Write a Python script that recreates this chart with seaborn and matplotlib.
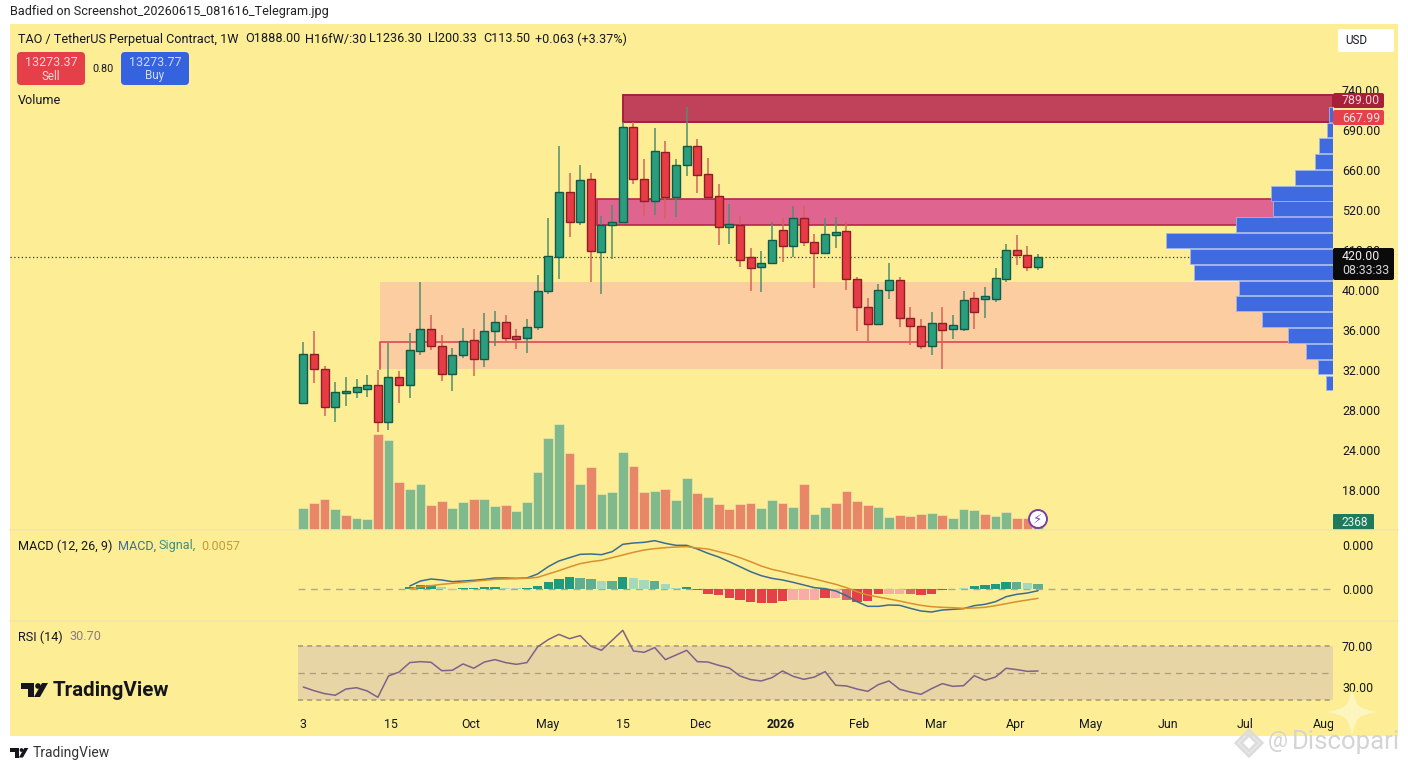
import numpy as np
import pandas as pd
import matplotlib
matplotlib.use('Agg')
import matplotlib.pyplot as plt
from matplotlib.patches import Rectangle, FancyBboxPatch, Polygon, Circle
import seaborn as sns

# candles (axis units, the printed price labels are garbled)
opens = [28.67, 33.6, 32.07, 28.33, 29.67, 29.77, 30.1, 30.5, 26.77, 31.27,
         30.5, 33.93, 36.07, 34.43, 31.57, 33.5, 35.0, 33.07, 35.93, 36.8,
         35.43, 35.2, 36.27, 39.87, 43.33, 49.8, 46.8, 51.07, 43.83, 46.47,
         46.83, 56.27, 51.13, 48.93, 53.8, 49.33, 52.53, 54.4, 51.57, 49.43,
         46.27, 46.53, 43.27, 42.33, 42.73, 45.97, 44.43, 47.23, 44.77, 43.67,
         45.53, 45.87, 41.1, 38.33, 36.63, 40.03, 41.03, 37.23, 36.43, 34.43,
         36.7, 36.07, 36.07, 39.23, 39.13, 39.13, 41.13, 43.97, 43.47, 42.27]
closes = [33.6, 32.07, 28.33, 29.83, 29.93, 30.33, 30.5, 26.77, 31.27, 30.5,
          34.0, 36.07, 34.43, 31.57, 33.5, 34.87, 33.07, 35.93, 36.8, 35.17,
          35.1, 36.27, 39.87, 43.43, 49.8, 46.8, 51.0, 43.87, 46.47, 46.83,
          56.27, 51.07, 48.87, 53.87, 49.33, 52.47, 54.4, 51.53, 49.33, 46.33,
          46.57, 43.0, 42.2, 42.73, 44.97, 44.43, 47.17, 44.77, 43.7, 45.6,
          45.83, 41.1, 38.33, 36.6, 39.97, 41.03, 37.23, 36.37, 34.43, 36.67,
          36.03, 36.53, 38.97, 37.83, 39.43, 41.23, 43.97, 43.53, 42.27, 43.27]
highs = [34.83, 35.9, 32.4, 30.83, 31.27, 31.13, 31.5, 32.0, 34.67, 31.93,
         35.67, 40.83, 37.5, 35.5, 34.17, 36.17, 36.07, 37.67, 37.93, 37.47,
         36.13, 37.07, 41.5, 47.17, 54.43, 51.67, 52.47, 51.67, 47.4, 48.47,
         56.8, 56.83, 53.07, 56.17, 54.93, 53.07, 58.33, 55.07, 53.23, 50.57,
         48.57, 47.4, 44.2, 43.87, 46.77, 47.17, 48.43, 48.37, 45.63, 47.17,
         47.33, 46.83, 41.33, 39.17, 40.57, 42.67, 41.3, 38.3, 37.1, 37.8,
         38.3, 37.47, 39.87, 39.8, 40.27, 42.2, 44.57, 45.47, 44.43, 43.57]
lows = [28.57, 30.73, 27.43, 26.77, 28.43, 29.17, 29.27, 25.77, 26.0, 28.73,
        29.23, 33.47, 34.0, 30.93, 29.93, 33.23, 31.43, 32.27, 34.43, 34.73,
        34.13, 33.73, 36.0, 39.57, 41.13, 45.27, 46.5, 40.77, 39.63, 43.07,
        46.73, 50.6, 47.4, 47.53, 47.07, 47.33, 51.4, 49.73, 49.17, 44.47,
        44.57, 42.33, 39.9, 39.8, 42.6, 42.8, 43.33, 44.43, 40.23, 43.57,
        44.23, 39.97, 35.9, 34.93, 36.5, 39.07, 36.27, 34.5, 34.1, 33.5,
        32.13, 35.1, 35.93, 36.13, 37.23, 38.8, 40.8, 42.5, 41.9, 42.03]

volume = [67, 81, 93, 62, 44, 35, 32, 287, 269, 144,
          122, 137, 76, 86, 65, 83, 93, 94, 71, 75,
          58, 84, 173, 277, 318, 232, 138, 188, 108, 115,
          234, 191, 115, 117, 123, 89, 155, 112, 100, 77,
          63, 79, 80, 66, 90, 81, 69, 138, 48, 69,
          82, 117, 88, 75, 68, 39, 46, 42, 49, 52,
          45, 37, 62, 60, 47, 42, 54, 37, 35, 30]
volume_side = list('GRRGRGGRGRGGRRGGRGGRGGGGGRGRGGGRRGRGG'
                   'RGRRRRGGRGRGGRRRRGGRRRGRGGGRGGRRG')

macd_line = [9, 24, 30, 27, 22, 24, 26, 29, 33, 33,
             32, 33, 45, 67, 84, 94, 104, 105, 103, 112,
             134, 138, 140, 145, 137, 131, 131, 120, 107, 96,
             82, 67, 52, 40, 32, 27, 20, 12, 4, 1,
             -6, -20, -38, -52, -52, -48, -49, -58, -66, -69,
             -63, -61, -59, -50, -46, -38, -23, -16, -12, -5]
signal_line = [0, 7, 10, 14, 17, 20, 23, 26, 29, 30,
               31, 32, 35, 45, 55, 66, 76, 82, 86, 94,
               102, 110, 117, 121, 124, 126, 127, 123, 120, 112,
               104, 94, 82, 69, 59, 52, 44, 37, 30, 22,
               14, 4, -8, -18, -24, -30, -36, -43, -49, -53,
               -55, -56, -58, -57, -55, -50, -44, -38, -33, -28]
macd_hist = [7, 11, 12, 6, -3, 3, 3, 7, 7, 3,
             2, 3, 10, 21, 31, 35, 34, 29, 24, 25,
             37, 32, 26, 25, 15, 4, 5, -3, -14, -18,
             -26, -32, -38, -42, -42, -35, -33, -32, -32, -26,
             -28, -33, -40, -36, -16, -15, -14, -16, -18, -14,
             -2, -1, 3, 9, 11, 14, 20, 20, 18, 16]
# D dark, M medium, L light
macd_shade = list('DDDLLDDDDLLDDDDDMMLMDLLMLLD'
                  'DDDDDDDDDLLLDLMDDDLLMDDDLLD'
                  'DDDMLM')

rsi = [39.6, 36.9, 34.7, 33.5, 38.1, 39.1, 36.7, 32.0, 47.8, 50.7,
       57.7, 58.4, 57.9, 51.7, 52.0, 56.7, 53.5, 58.1, 59.9, 57.7,
       56.4, 57.7, 69.3, 74.7, 78.6, 75.4, 77.7, 69.8, 66.8, 74.2,
       81.6, 66.3, 65.3, 68.8, 59.9, 63.3, 66.8, 58.4, 58.1, 55.7,
       53.7, 47.8, 45.1, 44.1, 46.5, 51.5, 47.5, 45.3, 47.0, 51.0,
       40.9, 40.4, 38.1, 36.4, 41.4, 44.1, 37.9, 35.9, 34.2, 38.4,
       42.1, 40.1, 40.6, 48.0, 44.6, 47.0, 53.5, 52.5, 51.2, 51.5]

profile_price = [57.58, 56.0, 54.42, 52.85, 51.27, 49.68, 48.12, 46.55, 44.93,
                 43.37, 41.78, 40.2, 38.62, 37.05, 35.47, 33.88, 32.3, 30.7]
profile_size = [4, 5.7, 13.7, 18, 38.3, 61.7, 60, 97.3, 167,
                143, 139.3, 94, 96.7, 71.3, 45.3, 27, 14.7, 6.7]

price_ticks = [60, 56, 52, 48, 44, 40, 36, 32, 28, 24, 20]
price_labels = ['740.00', '690.00', '660.00', '520.00', '610.00', '40.000',
                '36.000', '32.000', '28.000', '24.000', '18.000']
time_ticks = [0, 8.2, 15.7, 22.9, 30, 37.3, 44.85, 52.2, 59.4, 66.9, 73.95, 81.2, 88.4, 95.8]
time_labels = ['3', '15', 'Oct', 'May', '15', 'Dec', '2026', 'Feb', 'Mar', 'Apr',
               'May', 'Jun', 'Jul', 'Aug']

YELLOW = '#fdee96'
INK = '#131722'
W, H = 1408, 768

sns.set_theme(style='white')
plt.rcParams['font.family'] = ['Roboto', 'DejaVu Sans']
plt.rcParams['axes.unicode_minus'] = False

fig = plt.figure(figsize=(W / 100, H / 100), dpi=100, facecolor='white')


def panel(y_top, y_bottom, **kw):
    # axes from pixel rows, all panels span x = 10..1333
    return fig.add_axes([10 / W, 1 - y_bottom / H, 1323 / W, (y_bottom - y_top) / H], **kw)


def pixel_layer(zorder):
    a = fig.add_axes([0, 0, 1, 1], zorder=zorder)
    a.set_xlim(0, W)
    a.set_ylim(H, 0)
    a.axis('off')
    a.patch.set_alpha(0)
    return a


back = pixel_layer(-5)
back.add_patch(Rectangle((10, 24), 1388, 712, fc=YELLOW, ec='none'))

ax_price = panel(24, 530, zorder=3)
ax_macd = panel(530, 621, zorder=3, sharex=ax_price)
ax_rsi = panel(621, 712, zorder=3, sharex=ax_price)
for a in (ax_price, ax_macd, ax_rsi):
    a.patch.set_alpha(0)
    sns.despine(ax=a, left=True, bottom=True, right=True, top=True)

xs = np.arange(len(opens))
x_left, x_right = -27.54, 96.69

# zones
ax_price.add_patch(Rectangle((30, 56.83), x_right - 30, 2.67, fc='#bf415a', ec='#a81f3d', lw=1.4, zorder=1.4))
ax_price.add_patch(Rectangle((27.6, 46.5), x_right - 27.6, 2.57, fc='#df6590', ec='#b4274f', lw=1.2, zorder=1.3))
ax_price.add_patch(Rectangle((7.2, 32.07), x_right - 7.2, 8.73, fc='#fbcda0', ec='none', zorder=1.1))
ax_price.plot([7.25, 7.25, 93.0], [32.07, 34.77, 34.77], color='#e0525c', lw=1.3, zorder=1.5)
ax_price.plot([x_left, x_right], [43.3, 43.3], color='#3a3a2a', lw=0.9, ls=(0, (1, 2)), zorder=1.6)

# candles
opens_a, closes_a = np.array(opens), np.array(closes)
up = closes_a >= opens_a
ax_price.vlines(xs[up], np.array(lows)[up], np.array(highs)[up], color='#4f8f6c', lw=1.1, zorder=2)
ax_price.vlines(xs[~up], np.array(lows)[~up], np.array(highs)[~up], color='#d8625a', lw=1.1, zorder=2)
ax_price.bar(xs[up], (closes_a - opens_a)[up], bottom=opens_a[up], width=0.75,
             color='#2a9d7c', edgecolor='#12594a', lw=1.0, zorder=3)
ax_price.bar(xs[~up], (opens_a - closes_a)[~up], bottom=closes_a[~up], width=0.75,
             color='#e73c46', edgecolor='#8a1f28', lw=1.0, zorder=3)

# volume
ax_vol = ax_price.twinx()
ax_vol.set_zorder(2)
ax_vol.patch.set_alpha(0)
vol_df = pd.DataFrame({'i': xs, 'v': volume, 'side': volume_side})
sns.barplot(data=vol_df, x='i', y='v', hue='side', palette={'G': '#80b98b', 'R': '#e88768'},
            native_scale=True, dodge=False, legend=False, width=0.92, saturation=1,
            edgecolor='#f6ebb0', linewidth=0.4, ax=ax_vol)
ax_vol.set_ylim(0, 1518)
ax_vol.axis('off')

# visible range volume profile
ax_prof = ax_price.twiny()
ax_prof.set_zorder(4)
ax_prof.patch.set_alpha(0)
sns.barplot(x=profile_size, y=profile_price, orient='h', native_scale=True,
            color='#3f6ae0', saturation=1, width=0.96, edgecolor='#9db6ee', linewidth=0.6, ax=ax_prof)
ax_prof.set_xlim(1323, 0)
ax_prof.axis('off')

# twinning moved the scale to the left, so set it up afterwards
ax_price.set_ylim(16, 66.6)
ax_price.set_xlim(x_left, x_right)
ax_price.yaxis.tick_right()
ax_price.set_yticks(price_ticks, price_labels)
ax_price.tick_params(axis='y', length=0, pad=6.5, labelsize=8.9, labelcolor=INK)
ax_price.tick_params(axis='x', length=0, labelbottom=False)
ax_price.grid(False)

# MACD
macd_x = xs[10:]
hist_key = [('G' if h >= 0 else 'R') + s for h, s in zip(macd_hist, macd_shade)]
hist_df = pd.DataFrame({'i': macd_x, 'h': macd_hist, 'k': hist_key})
hist_palette = {'GD': '#1f9a7e', 'GM': '#5fae90', 'GL': '#a3dabc',
                'RD': '#e53f4a', 'RM': '#d9656f', 'RL': '#f9abaa'}
ax_macd.plot([-0.5, x_right], [0, 0], color='#b3aa7c', lw=1, ls=(0, (5, 4)), zorder=0.5)
sns.barplot(data=hist_df, x='i', y='h', hue='k', palette=hist_palette, native_scale=True,
            dodge=False, legend=False, width=0.88, saturation=1, edgecolor='none', linewidth=0, ax=ax_macd)
sns.lineplot(x=macd_x, y=macd_line, color='#3c6c8c', lw=1.1, ax=ax_macd)
sns.lineplot(x=macd_x, y=signal_line, color='#d8912c', lw=1.1, ax=ax_macd)
ax_macd.set_ylim(-96, 177)
ax_macd.yaxis.tick_right()
ax_macd.set_yticks([132, 0], ['0.000', '0.000'])
ax_macd.tick_params(axis='y', length=0, pad=6.5, labelsize=8.9, labelcolor=INK)
ax_macd.tick_params(axis='x', length=0, labelbottom=False)
ax_macd.set_xlabel('')
ax_macd.set_ylabel('')

# RSI
ax_rsi.add_patch(Rectangle((-0.5, 30), x_right + 0.5, 40, fc='#e7d5a5', ec='none', zorder=0.5))
for lvl, st in ((70, (0, (3, 2.5))), (50, (0, (5, 4))), (30, (0, (3, 2.5)))):
    ax_rsi.plot([-0.5, x_right], [lvl, lvl], color='#a89e7a', lw=1.2 if lvl != 50 else 0.9, ls=st, zorder=0.7)
sns.lineplot(x=xs, y=rsi, color='#7e6288', lw=1.1, ax=ax_rsi)
ax_rsi.set_ylim(21.1, 88.5)
ax_rsi.yaxis.tick_right()
ax_rsi.set_yticks([70, 39.6], ['70.00', '30.00'])
ax_rsi.tick_params(axis='y', length=0, pad=6.5, labelsize=8.9, labelcolor=INK)
ax_rsi.set_xticks(time_ticks, time_labels)
ax_rsi.tick_params(axis='x', length=0, pad=4.5, labelsize=8.9, labelcolor=INK)
for lab in ax_rsi.get_xticklabels():
    if lab.get_text() == '2026':
        lab.set_fontweight('bold')
ax_rsi.set_xlabel('')
ax_rsi.set_ylabel('')
ax_rsi.set_xlim(x_left, x_right)

# screen furniture in pixel coordinates
top = pixel_layer(10)


def label(x, y, s, color=INK, size=9.1, ha='left', **kw):
    top.text(x, y, s, color=color, fontsize=size, ha=ha, va='center', **kw)


def box(x0, y0, x1, y1, color, rounding=2.5, **kw):
    top.add_patch(FancyBboxPatch((x0, y0), x1 - x0, y1 - y0, boxstyle=f'round,pad=0,rounding_size={rounding}',
                                 fc=color, ec='none', **kw))


def tv_logo(x, y, k, color):
    top.add_patch(Polygon([(x, y), (x + 13 * k, y), (x + 13 * k, y + 14 * k), (x + 7 * k, y + 14 * k),
                           (x + 7 * k, y + 6 * k), (x, y + 6 * k)], fc=color, ec='none'))
    top.add_patch(Circle((x + 17 * k, y + 3 * k), 2.8 * k, fc=color, ec='none'))
    top.add_patch(Polygon([(x + 21 * k, y), (x + 27 * k, y), (x + 19 * k, y + 14 * k), (x + 13 * k, y + 14 * k)],
                          fc=color, ec='none'))


# cut the Aug label at the price scale
top.add_patch(Rectangle((1333, 714), 65, 20, fc=YELLOW, ec='none'))
top.plot([10, 1398], [530, 530], color='#f2e6a6', lw=1.2)
top.plot([10, 1398], [621, 621], color='#f2e6a6', lw=1.2)

label(10, 12, 'Badfied on Screenshot_20260615_081616_Telegram.jpg', color='#222222')
label(18, 39, 'TAO / TetherUS Perpetual Contract, 1W')
label(245, 39, 'O1888.00')
label(305, 39, 'H16fW/:30')
label(369, 39, 'L1236.30')
label(428, 39, 'Ll200.33')
label(483, 39, 'C113.50')
label(535, 39, '+0.063 (+3.37%)')

box(17, 52, 85, 85, '#e5404a', rounding=4)
label(51, 62, '13273.37', color='#f9d5d5', size=9.0, ha='center')
label(51, 76, 'Sell', color='#f9d5d5', size=8.4, ha='center')
label(103, 69, '0.80', size=7.8, ha='center')
box(121, 52, 189, 85, '#3563e0', rounding=4)
label(155, 62, '13273.77', color='#cfdcf8', size=9.0, ha='center')
label(155, 76, 'Buy', color='#cfdcf8', size=8.4, ha='center')
label(18, 100, 'Volume')

box(1338, 29, 1394, 52, 'white', rounding=2)
label(1345, 41, 'USD', size=8.4)

box(1333, 93, 1384, 108, '#a81f3a', rounding=2)
label(1342, 101, '789.00', color='#f6d5d8', size=8.9)
box(1333, 110, 1384, 125, '#e5414c', rounding=2)
label(1342, 118, '667.99', color='#fbdcdc', size=8.9)
box(1333, 248, 1394, 280, '#0b0b0b', rounding=2)
label(1342, 257, '420.00', color='#f0f0f0', size=8.9)
label(1342, 271, '08:33:33', color='#d8d8d8', size=8.9)
box(1333, 514, 1374, 530, '#1f7a5c', rounding=1)
label(1342, 522, '2368', color='#e8f5ec', size=8.6)

top.add_patch(Circle((1038, 519), 9, fc='white', ec='#7b3fa0', lw=1.4))
top.text(1038, 519, '\u26a1', color='#8a44c0', fontsize=9.5, ha='center', va='center', family='DejaVu Sans')

label(18, 546, 'MACD (12, 26, 9)')
label(118, 546, 'MACD,', color='#3f6f98')
label(159, 546, 'Signal,', color='#3f8f80')
label(201, 546, '0.0057', color='#c49a3c')
label(18, 637, 'RSI (14)')
label(69, 637, '30.70', color='#8a7a80')

tv_logo(21, 683, 1.0, '#14161c')
label(53, 690, 'TradingView', color='#14161c', size=14.8, fontweight='semibold')
tv_logo(10, 748, 0.68, '#14161c')
label(33, 753, 'TradingView', color='#333333', size=10)

# watermark
star = []
for i in range(16):
    ang = i * np.pi / 8
    rad = 23 if i % 4 == 0 else (9 if i % 4 == 2 else 10.5)
    star.append((1352 + rad * np.cos(ang), 712 + rad * np.sin(ang)))
top.add_patch(Polygon(star, fc='#fdf6c4', ec='none', alpha=0.9))
for r in (13, 8):
    top.add_patch(Polygon([(1249, 743 - r), (1249 + r, 743), (1249, 743 + r), (1249 - r, 743)],
                          fc='none', ec='#dcdcdc', lw=2.2))
label(1268, 742, '@', color='#d4d4d4', size=16)
label(1292, 742, 'Discopari', color='#d4d4d4', size=18.5)

fig.savefig('out.png', dpi=100, facecolor='white')
